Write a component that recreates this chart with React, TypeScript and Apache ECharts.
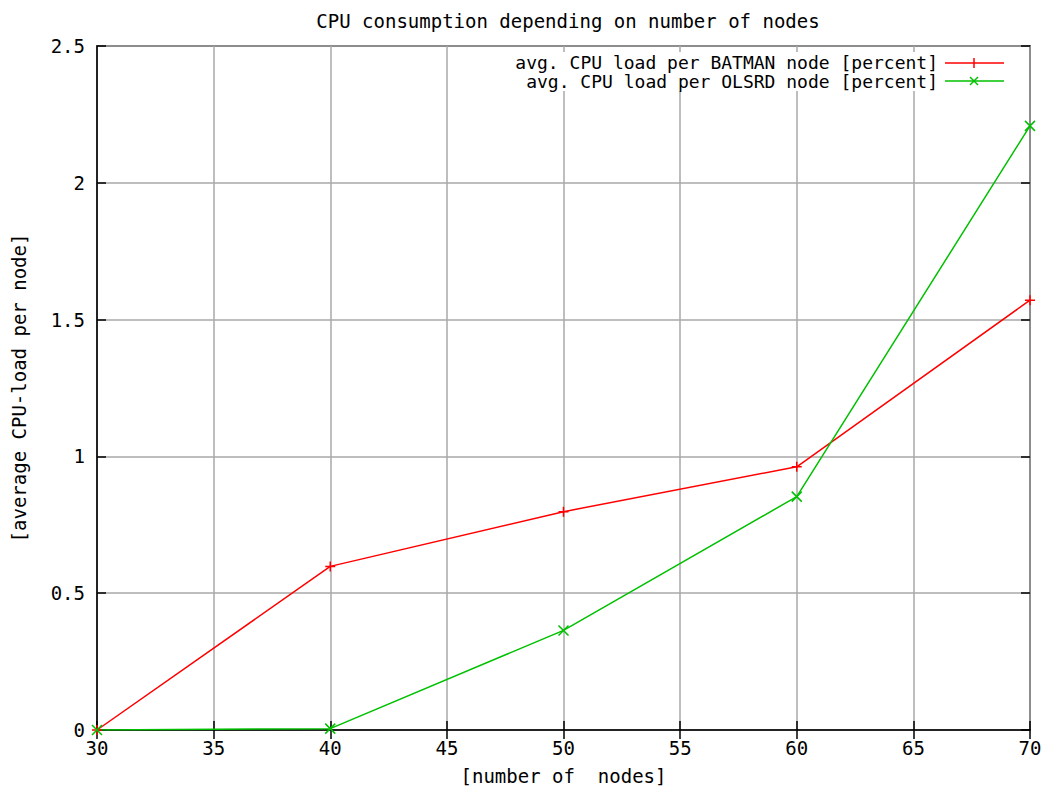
import React, { useEffect, useRef } from "react";
import * as echarts from "echarts";

const nodes = [30, 40, 50, 60, 70];
const batmanLoad = [0, 0.598, 0.798, 0.962, 1.571];
const olsrdLoad = [0, 0.005, 0.364, 0.853, 2.208];
const batmanName = "avg. CPU load per BATMAN node [percent]";
const olsrdName = "avg. CPU load per OLSRD node [percent]";
const titleText = "CPU consumption depending on number of nodes";
const xTitle = "[number of  nodes]";
const yTitle = "[average CPU-load per node]";

const FONT = "'DejaVu Sans Mono', 'Liberation Mono', monospace";
const FS = 19;
const LFS = 18;
const RED = "#ff0000";
const GREEN = "#00c000";

export default function App() {
  const ref = useRef<HTMLDivElement>(null);
  useEffect(() => {
    document.body.style.margin = "0";
    const chart = echarts.init(ref.current!, null, { renderer: "svg" });
    const tickCommon = { show: true, inside: true, length: 9, lineStyle: { color: "#000", width: 1.5 } };
    const option: any = {
      animation: false,
      backgroundColor: "#fff",
      textStyle: { fontFamily: FONT },
      title: {
        text: titleText,
        left: 563,
        top: 6,
        textAlign: "center",
        textStyle: { fontFamily: FONT, fontSize: FS, fontWeight: "normal", color: "#000" },
      },
      grid: {
        left: 97,
        right: 22,
        top: 46,
        bottom: 58,
        show: true,
        borderColor: "#000",
        borderWidth: 1.5,
        backgroundColor: "transparent",
      },
      xAxis: [
        {
          type: "value",
          min: 30,
          max: 70,
          interval: 5,
          name: xTitle,
          nameLocation: "middle",
          nameGap: 36,
          nameTextStyle: { fontFamily: FONT, fontSize: FS, color: "#000" },
          axisLine: { show: true, lineStyle: { color: "#000", width: 1.5 } },
          axisTick: tickCommon,
          axisLabel: { fontFamily: FONT, fontSize: FS, color: "#000", margin: 8 },
          splitLine: { show: true, lineStyle: { color: "#a8a8a8", width: 1.5 } },
        },
        {
          type: "value",
          position: "top",
          min: 30,
          max: 70,
          interval: 5,
          axisLine: { show: false },
          axisTick: tickCommon,
          axisLabel: { show: false },
          splitLine: { show: false },
        },
      ],
      yAxis: [
        {
          type: "value",
          min: 0,
          max: 2.5,
          interval: 0.5,
          name: yTitle,
          nameLocation: "middle",
          nameGap: 69,
          nameTextStyle: { fontFamily: FONT, fontSize: FS, color: "#000" },
          axisLine: { show: true, lineStyle: { color: "#000", width: 1.5 } },
          axisTick: tickCommon,
          axisLabel: { fontFamily: FONT, fontSize: FS, color: "#000", margin: 12 },
          splitLine: { show: true, lineStyle: { color: "#a8a8a8", width: 1.5 } },
        },
        {
          type: "value",
          position: "right",
          min: 0,
          max: 2.5,
          interval: 0.5,
          axisLine: { show: false },
          axisTick: tickCommon,
          axisLabel: { show: false },
          splitLine: { show: false },
        },
      ],
      series: [
        {
          name: batmanName,
          type: "line",
          xAxisIndex: 0,
          yAxisIndex: 0,
          data: nodes.map((n, i) => [n, batmanLoad[i]]),
          symbol: "path://M0,5L10,5M5,0L5,10",
          symbolSize: 10,
          showSymbol: true,
          lineStyle: { color: RED, width: 1.5 },
          itemStyle: { color: RED, borderColor: RED, borderWidth: 1.5 },
          z: 3,
        },
        {
          name: olsrdName,
          type: "line",
          xAxisIndex: 0,
          yAxisIndex: 0,
          data: nodes.map((n, i) => [n, olsrdLoad[i]]),
          symbol: "path://M0,0L10,10M10,0L0,10",
          symbolSize: 10,
          showSymbol: true,
          lineStyle: { color: GREEN, width: 1.5 },
          itemStyle: { color: GREEN, borderColor: GREEN, borderWidth: 1.5 },
          z: 3,
        },
      ],
      graphic: [
        { type: "rect", shape: { x: 478, y: 52, width: 532, height: 39 }, style: { fill: "#fff" }, z: 10 },
        {
          type: "text",
          x: 938,
          y: 62,
          style: {
            text: batmanName,
            font: `${LFS}px ${FONT}`,
            lineHeight: LFS,
            fill: "#000",
            align: "right",
            verticalAlign: "middle",
          },
          z: 11,
        },
        {
          type: "text",
          x: 938,
          y: 81,
          style: {
            text: olsrdName,
            font: `${LFS}px ${FONT}`,
            lineHeight: LFS,
            fill: "#000",
            align: "right",
            verticalAlign: "middle",
          },
          z: 11,
        },
        { type: "line", shape: { x1: 945, y1: 63, x2: 1004, y2: 63 }, style: { stroke: RED, lineWidth: 1.5 }, z: 11 },
        { type: "line", shape: { x1: 974, y1: 58, x2: 974, y2: 68 }, style: { stroke: RED, lineWidth: 1.5 }, z: 11 },
        { type: "line", shape: { x1: 945, y1: 81, x2: 1004, y2: 81 }, style: { stroke: GREEN, lineWidth: 1.5 }, z: 11 },
        { type: "line", shape: { x1: 970, y1: 77, x2: 978, y2: 85 }, style: { stroke: GREEN, lineWidth: 1.5 }, z: 11 },
        { type: "line", shape: { x1: 978, y1: 77, x2: 970, y2: 85 }, style: { stroke: GREEN, lineWidth: 1.5 }, z: 11 },
      ],
    };
    chart.setOption(option);
    return () => chart.dispose();
  }, []);
  return <div ref={ref} style={{ width: 1052, height: 790 }} />;
}
